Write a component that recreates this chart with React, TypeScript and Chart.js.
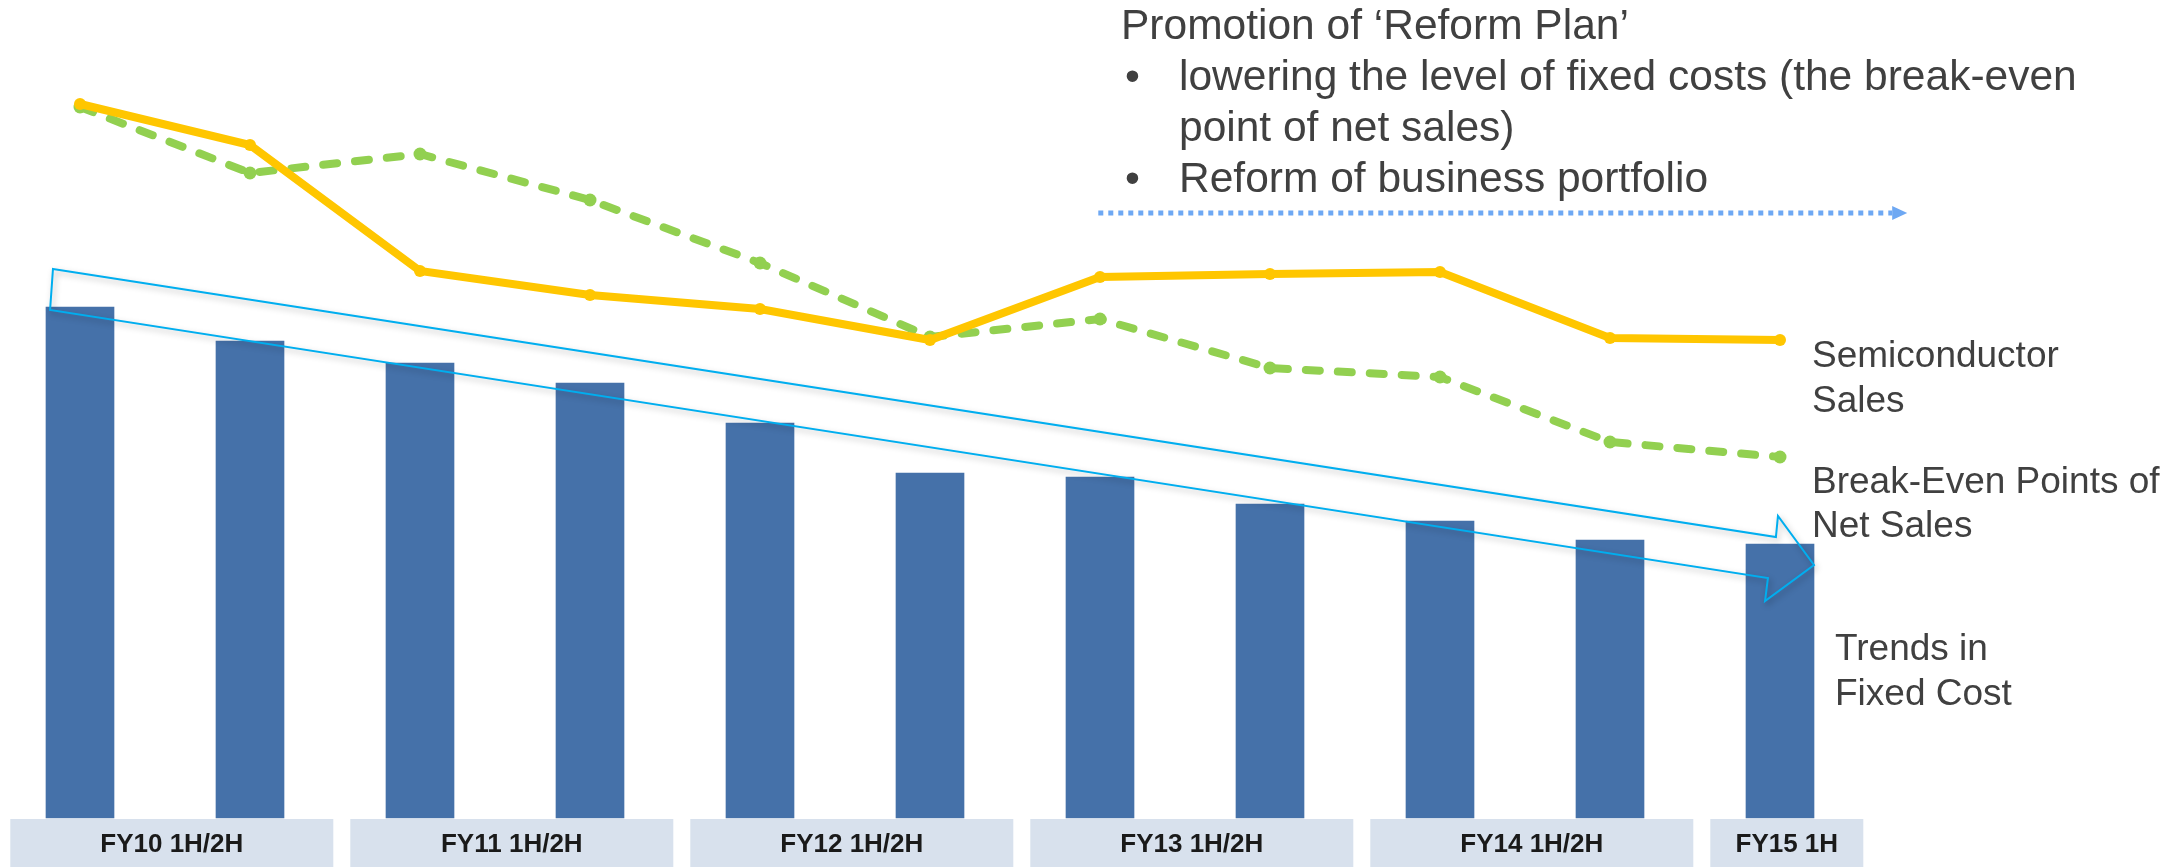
import React, { useEffect, useRef } from "react";
import { Chart, registerables } from "chart.js";

Chart.register(...registerables);

// ---- data (arbitrary units) ----
const periods = [
  "FY10 1H", "FY10 2H", "FY11 1H", "FY11 2H", "FY12 1H", "FY12 2H",
  "FY13 1H", "FY13 2H", "FY14 1H", "FY14 2H", "FY15 1H",
];
const fixedCost = [511, 477, 455, 435, 395, 345, 341, 314, 297, 278, 274];
const semiconductorSales = [714, 673, 547, 523, 509, 478, 541, 544, 546, 480, 478];
const breakEvenPoints = [711, 645, 664, 618, 555, 481, 499, 450, 441, 376, 361];

const groupLabels = ["FY10 1H/2H", "FY11 1H/2H", "FY12 1H/2H", "FY13 1H/2H", "FY14 1H/2H", "FY15 1H"];
const groupFirst = [0, 2, 4, 6, 8, 10];
const groupLast = [1, 3, 5, 7, 9, 10];

const headline = "Promotion of \u2018Reform Plan\u2019";
const bulletLines = [
  ["\u2022", "lowering the level of fixed costs (the break-even"],
  ["", "point of net sales)"],
  ["\u2022", "Reform of business portfolio"],
];

const FONT = "'Liberation Sans', Arial, sans-serif";
const TEXT = "#404040";

const decor = {
  id: "decor",
  afterDatasetsDraw(chart: any) {
    const ctx = chart.ctx as CanvasRenderingContext2D;
    const xs = chart.scales.x;
    const ys = chart.scales.y;
    const px = (i: number) => xs.getPixelForValue(i);
    const py = (v: number) => ys.getPixelForValue(v);
    const step = px(1) - px(0);
    const bottom = chart.chartArea.bottom;

    // category group boxes
    ctx.save();
    for (let g = 0; g < groupLabels.length; g++) {
      const l = px(groupFirst[g]) - 0.41 * step;
      const r = px(groupLast[g]) + 0.49 * step;
      ctx.fillStyle = "#D8E1ED";
      ctx.fillRect(l, bottom + 1, r - l, 48);
      ctx.fillStyle = "#1a1a1a";
      ctx.font = `bold 26px ${FONT}`;
      ctx.textAlign = "center";
      ctx.textBaseline = "middle";
      ctx.fillText(groupLabels[g], (l + r) / 2, bottom + 27);
    }
    ctx.restore();

    // trend block arrow (defined in data units)
    const arrow: [number, number][] = [
      [-0.159, 549], [9.976, 281], [9.988, 302], [10.2, 253],
      [9.912, 217], [9.929, 240], [-0.176, 508],
    ];
    ctx.save();
    ctx.beginPath();
    arrow.forEach(([i, v], k) => {
      if (k === 0) ctx.moveTo(px(i), py(v));
      else ctx.lineTo(px(i), py(v));
    });
    ctx.closePath();
    ctx.shadowColor = "rgba(0,0,0,0.28)";
    ctx.shadowBlur = 6;
    ctx.shadowOffsetX = 2;
    ctx.shadowOffsetY = 3;
    ctx.strokeStyle = "#00AEEF";
    ctx.lineWidth = 2;
    ctx.lineJoin = "miter";
    ctx.stroke();
    ctx.restore();

    // dotted "reform plan" arrow
    ctx.save();
    const ay = py(605);
    const ax0 = px(5.99);
    const ax1 = px(10.66);
    ctx.strokeStyle = "#6EA8F3";
    ctx.fillStyle = "#6EA8F3";
    ctx.lineWidth = 5;
    ctx.setLineDash([5, 5]);
    ctx.beginPath();
    ctx.moveTo(ax0, ay);
    ctx.lineTo(ax1, ay);
    ctx.stroke();
    ctx.setLineDash([]);
    ctx.beginPath();
    ctx.moveTo(ax1, ay - 7);
    ctx.lineTo(ax1 + 15, ay);
    ctx.lineTo(ax1, ay + 7);
    ctx.closePath();
    ctx.fill();
    ctx.restore();

    // texts
    ctx.save();
    ctx.fillStyle = TEXT;
    ctx.textAlign = "left";
    ctx.textBaseline = "alphabetic";
    ctx.font = `42.5px ${FONT}`;
    ctx.fillText(headline, 1121, 39);
    bulletLines.forEach(([b, t], k) => {
      const by = 90 + k * 51;
      if (b) ctx.fillText(b, 1125, by);
      ctx.fillText(t, 1179, by);
    });
    ctx.font = `37px ${FONT}`;
    ctx.fillText("Semiconductor", 1812, 367);
    ctx.fillText("Sales", 1812, 412);
    ctx.fillText("Break-Even Points of", 1812, 493);
    ctx.fillText("Net Sales", 1812, 537);
    ctx.fillText("Trends in", 1835, 660);
    ctx.fillText("Fixed Cost", 1835, 705);
    ctx.restore();
  },
};

export default function App() {
  const ref = useRef<HTMLCanvasElement | null>(null);
  useEffect(() => {
    if (!ref.current) return;
    const chart = new Chart(ref.current, {
      type: "bar",
      data: {
        labels: periods,
        datasets: [
          {
            type: "line",
            label: "Semiconductor Sales",
            data: semiconductorSales,
            borderColor: "#FFC600",
            backgroundColor: "#FFC600",
            borderWidth: 8,
            pointRadius: 6,
            pointBorderWidth: 0,
            tension: 0,
            order: 0,
            clip: false,
          } as any,
          {
            type: "line",
            label: "Break-Even Points of Net Sales",
            data: breakEvenPoints,
            borderColor: "#92D050",
            backgroundColor: "#92D050",
            borderWidth: 8,
            borderDash: [14, 18],
            borderCapStyle: "round",
            pointRadius: 6.5,
            pointBorderWidth: 0,
            tension: 0,
            order: 1,
            clip: false,
          } as any,
          {
            type: "bar",
            label: "Trends in Fixed Cost",
            data: fixedCost,
            backgroundColor: "#4571A9",
            barThickness: 68,
            order: 2,
            clip: false,
          } as any,
        ],
      },
      options: {
        animation: false,
        responsive: false,
        maintainAspectRatio: false,
        layout: { autoPadding: false, padding: { left: 80, right: 402, top: 0, bottom: 50 } },
        plugins: { legend: { display: false }, tooltip: { enabled: false } },
        scales: {
          x: { type: "category", offset: false, display: false, grid: { display: false } },
          y: { min: 0, max: 818, display: false, grid: { display: false } },
        },
      },
      plugins: [decor],
    });
    return () => chart.destroy();
  }, []);
  return (
    <div style={{ position: "absolute", left: 0, top: 0, width: 2182, height: 868, background: "#fff" }}>
      <canvas ref={ref} width={2182} height={868} style={{ width: 2182, height: 868, display: "block" }} />
    </div>
  );
}
